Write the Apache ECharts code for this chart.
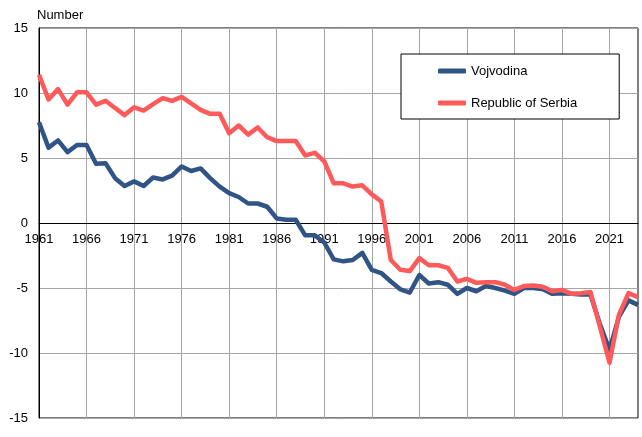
<!DOCTYPE html>
<html>
<head>
<meta charset="utf-8">
<script src="https://cdn.jsdelivr.net/npm/echarts@6/dist/echarts.min.js"></script>
<style>
  html, body { margin: 0; padding: 0; background: #fff; }
  #chart { width: 642px; height: 437px; }
</style>
</head>
<body>
<div id="chart"></div>
<script>
// years 1961..2024
const years = []
for (let y = 1961; y <= 2024; y++) years.push(String(y))

// natural increase, per 1000 population
const vojvodina = [
  7.75, 5.8, 6.35, 5.45, 6.0, 6.0, 4.55, 4.6, 3.45, 2.85,
  3.2, 2.85, 3.5, 3.35, 3.65, 4.35, 4.0, 4.2, 3.45, 2.8,
  2.3, 2.0, 1.5, 1.5, 1.25, 0.35, 0.25, 0.25, -0.95, -0.95,
  -1.5, -2.8, -2.95, -2.85, -2.3, -3.6, -3.85, -4.5, -5.1, -5.35,
  -4.0, -4.65, -4.55, -4.75, -5.45, -5.0, -5.25, -4.85, -5.0, -5.2,
  -5.45, -5.0, -5.0, -5.1, -5.45, -5.4, -5.45, -5.5, -5.5, -7.8,
  -9.75, -7.2, -5.95, -6.3
]
const serbia = [
  11.4, 9.5, 10.3, 9.1, 10.05, 10.05, 9.1, 9.4, 8.85, 8.3,
  8.9, 8.65, 9.15, 9.6, 9.4, 9.7, 9.2, 8.7, 8.4, 8.4,
  6.9, 7.5, 6.8, 7.35, 6.6, 6.3, 6.3, 6.3, 5.2, 5.4,
  4.75, 3.05, 3.05, 2.8, 2.9, 2.2, 1.65, -2.85, -3.6, -3.7,
  -2.7, -3.25, -3.25, -3.45, -4.5, -4.3, -4.6, -4.55, -4.55, -4.75,
  -5.15, -4.85, -4.8, -4.9, -5.25, -5.15, -5.45, -5.4, -5.3, -8.0,
  -10.75, -7.05, -5.4, -5.7
]

const FONT = '"Liberation Sans", Arial, sans-serif'
const chart = echarts.init(document.getElementById('chart'))

const gridTop = 28
const gridBottom = 19
const plotH = 437 - gridTop - gridBottom // 30 units tall, zero in the middle

const option = {
  animation: false,
  backgroundColor: '#fff',
  textStyle: { fontFamily: FONT },
  title: {
    text: 'Number',
    left: 32,
    top: 4,
    textStyle: { fontFamily: FONT, fontSize: 13, fontWeight: 'normal', color: '#000' }
  },
  grid: {
    left: 39, right: 4, top: gridTop, bottom: gridBottom,
    show: true, borderColor: '#000', borderWidth: 1
  },
  legend: {
    orient: 'vertical',
    left: 401,
    top: 54,
    padding: [10, 42, 9, 37],
    itemGap: 18,
    itemWidth: 28,
    itemHeight: 5,
    backgroundColor: '#fff',
    borderColor: '#000',
    borderWidth: 1,
    borderRadius: 0,
    textStyle: { fontFamily: FONT, fontSize: 13, color: '#000', lineHeight: 14 },
    data: [
      { name: 'Vojvodina', icon: 'roundRect' },
      { name: 'Republic of Serbia', icon: 'roundRect' }
    ]
  },
  xAxis: {
    type: 'category',
    data: years,
    boundaryGap: false,
    offset: -plotH / 2,
    axisLine: { onZero: false, lineStyle: { color: '#000', width: 1 } },
    axisTick: { show: false },
    axisLabel: { interval: 4, margin: 10, fontSize: 13, color: '#000', fontFamily: FONT },
    splitLine: { show: true, interval: 4, lineStyle: { color: '#a6a6a6', width: 1 } }
  },
  yAxis: {
    type: 'value',
    min: -15,
    max: 15,
    interval: 5,
    axisLine: { show: true, lineStyle: { color: '#000', width: 1 } },
    axisTick: { show: false },
    axisLabel: { margin: 11, fontSize: 13, color: '#000', fontFamily: FONT },
    splitLine: { show: true, lineStyle: { color: '#a6a6a6', width: 1 } }
  },
  series: [
    {
      name: 'Vojvodina',
      type: 'line',
      data: vojvodina,
      symbol: 'none',
      color: '#2f5485',
      lineStyle: { width: 4.5, color: '#2f5485', join: 'round' }
    },
    {
      name: 'Republic of Serbia',
      type: 'line',
      data: serbia,
      symbol: 'none',
      color: '#ff5a5a',
      lineStyle: { width: 4.5, color: '#ff5a5a', join: 'round' }
    }
  ]
}

chart.setOption(option)
</script>
</body>
</html>
